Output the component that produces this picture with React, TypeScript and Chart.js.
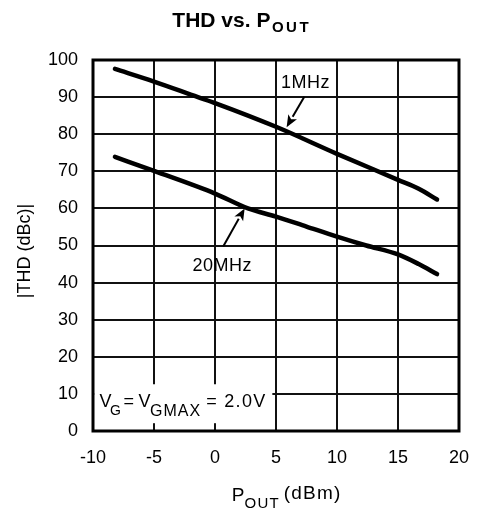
import React, { useEffect, useRef } from 'react';
import { Chart, registerables } from 'chart.js';

Chart.register(...registerables);

// ---- data ----
const xTickValues = [-10, -5, 0, 5, 10, 15, 20];
const yTickValues = [0, 10, 20, 30, 40, 50, 60, 70, 80, 90, 100];

const pout1MHz = [-8.2, -5, -1.4, 0, 5, 10, 15, 16.7, 18.2];
const thd1MHz = [97.6, 94.2, 90, 88.4, 82.0, 74.7, 67.7, 65.3, 62.4];

const pout20MHz = [-8.2, -5, 0, 2.7, 5, 7.5, 10, 12.4, 15, 16.7, 18.2];
const thd20MHz = [73.9, 70.1, 64.0, 60.0, 57.8, 55.1, 52.4, 50.0, 47.6, 45.0, 42.3];

const seriesLabels = ['1MHz', '20MHz'];

const FONT = '"Liberation Sans", Arial, Helvetica, sans-serif';
const INK = '#000000';

type Seg = { t: string; size: number; bold?: boolean; dx: number; dy?: number; sp?: number };

function drawSegs(ctx: CanvasRenderingContext2D, x: number, y: number, segs: Seg[]) {
  ctx.save();
  ctx.fillStyle = INK;
  ctx.textAlign = 'left';
  ctx.textBaseline = 'alphabetic';
  for (const s of segs) {
    ctx.font = `${s.bold ? 'bold ' : ''}${s.size}px ${FONT}`;
    (ctx as any).letterSpacing = `${s.sp || 0}px`;
    ctx.fillText(s.t, x + s.dx, y + (s.dy || 0));
  }
  ctx.restore();
}

function drawArrow(ctx: CanvasRenderingContext2D, x0: number, y0: number, x1: number, y1: number) {
  const ang = Math.atan2(y1 - y0, x1 - x0);
  const headLen = 12;
  const headW = 5;
  const bx = x1 - headLen * Math.cos(ang);
  const by = y1 - headLen * Math.sin(ang);
  ctx.save();
  ctx.strokeStyle = INK;
  ctx.fillStyle = INK;
  ctx.lineWidth = 2;
  ctx.beginPath();
  ctx.moveTo(x0, y0);
  ctx.lineTo(bx, by);
  ctx.stroke();
  ctx.beginPath();
  ctx.moveTo(x1, y1);
  ctx.lineTo(bx + headW * Math.sin(ang), by - headW * Math.cos(ang));
  ctx.lineTo(bx + 3 * Math.cos(ang), by + 3 * Math.sin(ang));
  ctx.lineTo(bx - headW * Math.sin(ang), by + headW * Math.cos(ang));
  ctx.closePath();
  ctx.fill();
  ctx.restore();
}

const annotPlugin = {
  id: 'annot',
  beforeDatasetsDraw(chart: any) {
    const { ctx } = chart;
    const xs = chart.scales.x;
    const ys = chart.scales.y;
    // white box behind the condition text
    const l = xs.getPixelForValue(-9.9);
    const r = xs.getPixelForValue(4.7);
    const t = ys.getPixelForValue(12.6);
    const b = ys.getPixelForValue(2.1);
    ctx.save();
    ctx.fillStyle = '#ffffff';
    ctx.fillRect(l, t, r - l, b - t);
    ctx.restore();
  },
  afterDraw(chart: any) {
    const { ctx, chartArea: a } = chart;
    const xs = chart.scales.x;
    const ys = chart.scales.y;

    // frame
    ctx.save();
    ctx.strokeStyle = INK;
    ctx.lineWidth = 3;
    ctx.strokeRect(a.left, a.top, a.right - a.left, a.bottom - a.top);
    ctx.restore();

    // title
    ctx.save();
    ctx.font = `bold 21px ${FONT}`;
    const w1 = ctx.measureText('THD vs. P').width;
    ctx.font = `bold 15px ${FONT}`;
    const w2 = ctx.measureText('OUT').width + 3 * 2.5;
    ctx.restore();
    const tx = 241.7 - (w1 + 1.5 + w2) / 2;
    drawSegs(ctx, tx, 26.7, [
      { t: 'THD vs. P', size: 21, bold: true, dx: 0 },
      { t: 'OUT', size: 15, bold: true, dx: w1 + 1.5, dy: 5, sp: 2.5 },
    ]);

    // x axis title
    ctx.save();
    ctx.font = `19px ${FONT}`;
    const p1 = ctx.measureText('P').width;
    ctx.font = `15px ${FONT}`;
    const p2 = ctx.measureText('OUT').width + 3 * 1.2;
    ctx.font = `19px ${FONT}`;
    const p3 = ctx.measureText('(dBm)').width + 5 * 1.2;
    ctx.restore();
    const xt = 286.7 - (p1 + p2 + 4 + p3) / 2;
    drawSegs(ctx, xt, 500.7, [
      { t: 'P', size: 19, dx: 0 },
      { t: 'OUT', size: 15, dx: p1, dy: 7.6, sp: 1.2 },
      { t: '(dBm)', size: 19, dx: p1 + p2 + 4, dy: -1.5, sp: 1.2 },
    ]);

    // y axis title
    ctx.save();
    ctx.translate(30, 251);
    ctx.rotate(-Math.PI / 2);
    ctx.font = `18px ${FONT}`;
    ctx.fillStyle = INK;
    ctx.textAlign = 'center';
    ctx.textBaseline = 'alphabetic';
    ctx.fillText('|THD (dBc)|', 0, 0);
    ctx.restore();

    // condition text
    const vx = xs.getPixelForValue(-9.46);
    const vy = ys.getPixelForValue(6.55);
    drawSegs(ctx, vx, vy, [
      { t: 'V', size: 18, dx: 0 },
      { t: 'G', size: 14, dx: 10.5, dy: 8.3 },
      { t: '=', size: 18, dx: 24 },
      { t: 'V', size: 18, dx: 39 },
      { t: 'GMAX', size: 16, dx: 50.5, dy: 9.5, sp: 1.0 },
      { t: '= 2.0V', size: 18, dx: 106.6, sp: 1.3 },
    ]);

    // series labels with arrows
    ctx.save();
    ctx.fillStyle = INK;
    ctx.textAlign = 'center';
    ctx.textBaseline = 'alphabetic';
    ctx.font = `18px ${FONT}`;
    (ctx as any).letterSpacing = '0.5px';
    ctx.fillText(seriesLabels[0], xs.getPixelForValue(7.41), ys.getPixelForValue(92.4));
    ctx.fillText(seriesLabels[1], xs.getPixelForValue(0.6), ys.getPixelForValue(43.1));
    ctx.restore();
    drawArrow(ctx, xs.getPixelForValue(7.32), ys.getPixelForValue(90.1), xs.getPixelForValue(5.87), ys.getPixelForValue(81.9));
    drawArrow(ctx, xs.getPixelForValue(0.67), ys.getPixelForValue(49.7), xs.getPixelForValue(2.43), ys.getPixelForValue(60.0));
  },
};

export default function App() {
  const ref = useRef<HTMLCanvasElement | null>(null);

  useEffect(() => {
    if (!ref.current) return;
    const mk = (xs: number[], ys: number[]) => xs.map((x, i) => ({ x, y: ys[i] }));
    const lineStyle = {
      borderColor: INK,
      backgroundColor: INK,
      borderWidth: 4.5,
      borderCapStyle: 'round' as const,
      pointRadius: 0,
      cubicInterpolationMode: 'monotone' as const,
      fill: false,
    };
    const chart = new Chart(ref.current, {
      type: 'line',
      data: {
        datasets: [
          { label: seriesLabels[0], data: mk(pout1MHz, thd1MHz), ...lineStyle },
          { label: seriesLabels[1], data: mk(pout20MHz, thd20MHz), ...lineStyle },
        ],
      },
      options: {
        animation: false,
        responsive: false,
        devicePixelRatio: 1,
        layout: { padding: { top: 60, right: 21, bottom: 0, left: 0 } },
        plugins: { legend: { display: false }, tooltip: { enabled: false }, title: { display: false } },
        scales: {
          x: {
            type: 'linear',
            min: -10,
            max: 20,
            afterBuildTicks: (s: any) => {
              s.ticks = xTickValues.map((v) => ({ value: v }));
            },
            afterFit: (s: any) => {
              s.height = 83;
            },
            grid: { color: '#111111', lineWidth: 2, drawTicks: false },
            border: { display: false },
            ticks: {
              color: INK,
              font: { family: FONT, size: 18 },
              padding: 16,
              maxRotation: 0,
              autoSkip: false,
              callback: (v: any) => String(v),
            },
          },
          y: {
            type: 'linear',
            min: 0,
            max: 100,
            afterBuildTicks: (s: any) => {
              s.ticks = yTickValues.map((v) => ({ value: v }));
            },
            afterFit: (s: any) => {
              s.width = 93;
            },
            grid: { color: '#111111', lineWidth: 2, drawTicks: false },
            border: { display: false },
            ticks: {
              color: INK,
              font: { family: FONT, size: 18 },
              padding: 15,
              autoSkip: false,
              callback: (v: any) => String(v),
            },
          },
        },
      },
      plugins: [annotPlugin],
    });
    return () => chart.destroy();
  }, []);

  return (
    <div style={{ position: 'absolute', left: 0, top: 0, width: 485, height: 514, background: '#fff' }}>
      <canvas ref={ref} width={485} height={514} style={{ display: 'block' }} />
    </div>
  );
}
